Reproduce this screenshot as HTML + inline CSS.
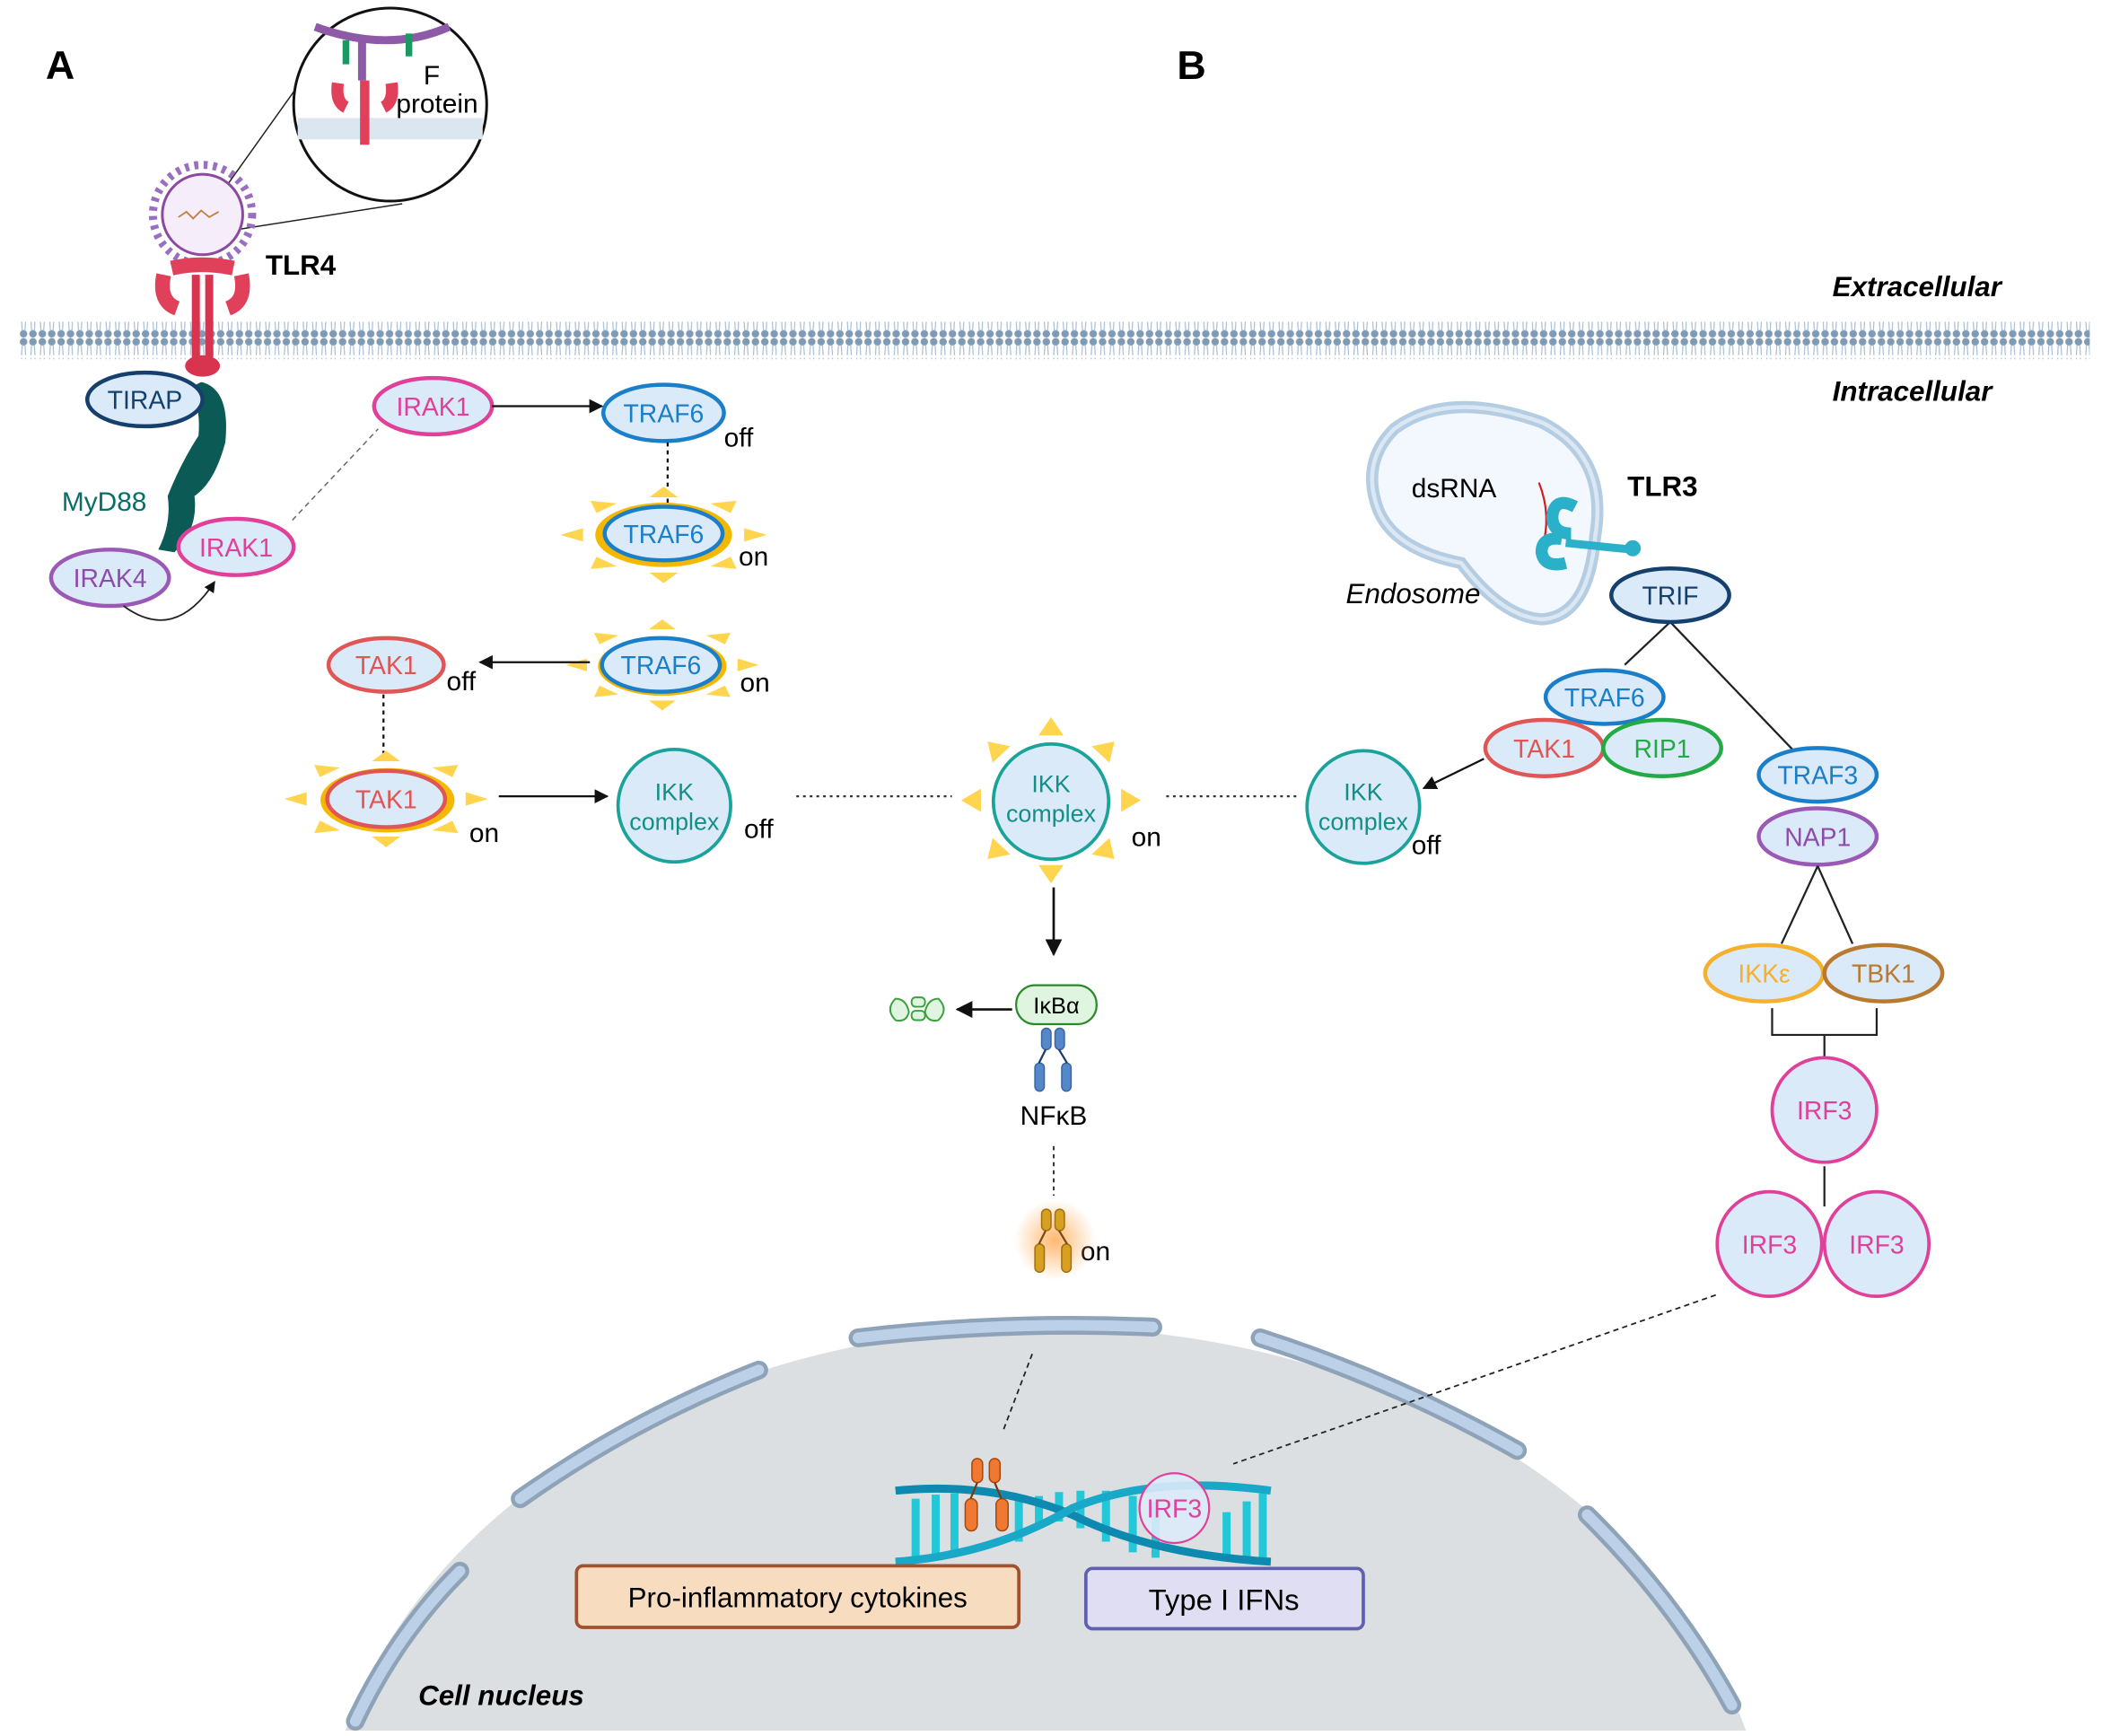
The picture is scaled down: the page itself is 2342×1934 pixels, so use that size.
<!DOCTYPE html>
<html><head><meta charset="utf-8"><style>
html,body{margin:0;padding:0;background:#fff;width:2342px;height:1934px;overflow:hidden}
svg{display:block}
text{font-family:"Liberation Sans",sans-serif}
</style></head><body>
<svg width="2342" height="1934" viewBox="0 0 1568 1295" xmlns="http://www.w3.org/2000/svg">
<defs>
<g id="sun">
<polygon points="78,-14 78,14 100,0" fill="#ffd54f"/>
<polygon points="78,-14 78,14 100,0" fill="#ffd54f" transform="rotate(45)"/>
<polygon points="78,-14 78,14 100,0" fill="#ffd54f" transform="rotate(90)"/>
<polygon points="78,-14 78,14 100,0" fill="#ffd54f" transform="rotate(135)"/>
<polygon points="78,-14 78,14 100,0" fill="#ffd54f" transform="rotate(180)"/>
<polygon points="78,-14 78,14 100,0" fill="#ffd54f" transform="rotate(225)"/>
<polygon points="78,-14 78,14 100,0" fill="#ffd54f" transform="rotate(270)"/>
<polygon points="78,-14 78,14 100,0" fill="#ffd54f" transform="rotate(315)"/>
</g>
<marker id="ah" viewBox="0 0 10 10" refX="9" refY="5" markerWidth="7" markerHeight="7" orient="auto"><path d="M0,0L10,5L0,10z" fill="#111"/></marker>
<radialGradient id="glow"><stop offset="0" stop-color="#ffb060" stop-opacity="0.9"/><stop offset="1" stop-color="#ffb060" stop-opacity="0"/></radialGradient>
<pattern id="lip" width="7" height="28" patternUnits="userSpaceOnUse"><circle cx="3.5" cy="3" r="2.8" fill="#7f9ab5"/><circle cx="3.5" cy="25" r="2.8" fill="#7f9ab5"/><path d="M2.5,5L2,13M4.5,5L5,13M2.5,23L2,15M4.5,23L5,15" stroke="#a8bdd2" stroke-width="0.8"/></pattern>
</defs>

<text x="34" y="59" font-size="30" font-weight="bold">A</text>
<text x="878" y="59" font-size="30" font-weight="bold">B</text>
<text x="1367" y="221" font-size="21" font-weight="bold" font-style="italic">Extracellular</text>
<text x="1367" y="299" font-size="21" font-weight="bold" font-style="italic">Intracellular</text>

<rect x="14" y="240" width="1545" height="28" fill="url(#lip)"/>

<line x1="168" y1="140" x2="250" y2="25" stroke="#222" stroke-width="1"/>
<line x1="172" y1="172" x2="300" y2="152" stroke="#222" stroke-width="1"/>
<circle cx="291" cy="78" r="72" fill="#fff" stroke="#111" stroke-width="2"/>
<rect x="222" y="88" width="138" height="16" fill="#dce6f0"/>
<path d="M235,20 Q290,40 335,20" stroke="#8e5aa8" stroke-width="6" fill="none"/>
<path d="M270,30V60" stroke="#8e5aa8" stroke-width="6"/>
<path d="M258,30V48M305,25V42" stroke="#1a9a60" stroke-width="5"/>
<path d="M252,62 Q250,76 258,80 M292,62 Q294,76 286,80" stroke="#e0405a" stroke-width="9" fill="none"/>
<path d="M272,60V108" stroke="#e0405a" stroke-width="7"/>
<text x="322" y="63" font-size="20" text-anchor="middle">F</text>
<text x="326" y="84" font-size="20" text-anchor="middle">protein</text>

<circle cx="151" cy="160" r="37" fill="none" stroke="#9b6fc0" stroke-width="6" stroke-dasharray="3 4"/>
<circle cx="151" cy="160" r="30" fill="#f5edfa" stroke="#8a4aa0" stroke-width="2"/>
<path d="M133,162 l6,-4 l5,5 l6,-6 l6,5 l7,-4" stroke="#c08040" fill="none" stroke-width="1.2"/>

<text x="198" y="205" font-size="21" font-weight="bold">TLR4</text>
<path d="M122,205 Q118,225 132,230 M180,205 Q184,225 170,230" stroke="#e0405a" stroke-width="11" fill="none"/>
<path d="M128,200 Q150,195 174,200" stroke="#e0405a" stroke-width="11" fill="none"/>
<path d="M146,205V272M156,205V272" stroke="#d8344f" stroke-width="6"/>
<ellipse cx="151" cy="273" rx="13" ry="8" fill="#d8344f"/>

<path d="M150,285 Q172,290 168,330 Q160,360 145,370 Q148,395 130,412 L118,410 Q128,390 125,370 Q135,345 148,325 Q150,300 140,290z" fill="#0b5a55"/>
<text x="46" y="381" font-size="20" fill="#0b6e66">MyD88</text>

<g font-size="19" text-anchor="middle">
<ellipse cx="108" cy="298" rx="43" ry="20" fill="#dbeaf8" stroke="#15406e" stroke-width="3"/>
<text x="108" y="305" fill="#15406e">TIRAP</text>
<ellipse cx="82" cy="431" rx="44" ry="21" fill="#dbeaf8" stroke="#9b59b6" stroke-width="3"/>
<text x="82" y="438" fill="#8e4caa">IRAK4</text>
<ellipse cx="176" cy="408" rx="43" ry="21" fill="#dbeaf8" stroke="#e0409a" stroke-width="3"/>
<text x="176" y="415" fill="#e0409a">IRAK1</text>
</g>
<path d="M92,452 Q130,480 160,434" stroke="#222" stroke-width="1.2" fill="none" marker-end="url(#ah)"/>
<line x1="218" y1="388" x2="282" y2="320" stroke="#666" stroke-width="1" stroke-dasharray="4 3"/>

<g font-size="19" text-anchor="middle">
<ellipse cx="323" cy="303" rx="44" ry="21" fill="#dbeaf8" stroke="#e0409a" stroke-width="3"/>
<text x="323" y="310" fill="#e0409a">IRAK1</text>
<line x1="367" y1="303" x2="449" y2="303" stroke="#111" stroke-width="1.5" marker-end="url(#ah)"/>
<ellipse cx="495" cy="308" rx="45" ry="21" fill="#dbeaf8" stroke="#1a7fc8" stroke-width="3"/>
<text x="495" y="315" fill="#1a7fc8">TRAF6</text>
<line x1="498" y1="330" x2="498" y2="380" stroke="#111" stroke-width="1.5" stroke-dasharray="3 3"/>

<use href="#sun" transform="translate(495,399) scale(0.77,0.36)"/>
<ellipse cx="495" cy="399" rx="51" ry="24" fill="#f5b800"/>
<ellipse cx="495" cy="398" rx="44" ry="20" fill="#dbeaf8" stroke="#1a7fc8" stroke-width="3"/>
<text x="495" y="405" fill="#1a7fc8">TRAF6</text>

<use href="#sun" transform="translate(494,496) scale(0.72,0.34)"/>
<ellipse cx="494" cy="497" rx="48" ry="22" fill="#f5b800"/>
<ellipse cx="493" cy="496" rx="44" ry="20" fill="#dbeaf8" stroke="#1a7fc8" stroke-width="3"/>
<text x="493" y="503" fill="#1a7fc8">TRAF6</text>
<line x1="440" y1="494" x2="358" y2="494" stroke="#111" stroke-width="1.5" marker-end="url(#ah)"/>

<ellipse cx="288" cy="496" rx="43" ry="20" fill="#dbeaf8" stroke="#e05555" stroke-width="3"/>
<text x="288" y="503" fill="#e05555">TAK1</text>
<line x1="286" y1="518" x2="286" y2="566" stroke="#111" stroke-width="1.5" stroke-dasharray="3 3"/>

<use href="#sun" transform="translate(288,596) scale(0.76,0.36)"/>
<ellipse cx="289" cy="597" rx="50" ry="24" fill="#f5b800"/>
<ellipse cx="288" cy="596" rx="44" ry="21" fill="#dbeaf8" stroke="#e05555" stroke-width="3"/>
<text x="288" y="603" fill="#e05555">TAK1</text>
<line x1="372" y1="594" x2="453" y2="594" stroke="#111" stroke-width="1.5" marker-end="url(#ah)"/>

<circle cx="503" cy="601" r="42" fill="#dbeaf8" stroke="#1aa39a" stroke-width="2.5"/>
<text x="503" y="597" fill="#129088" font-size="18">IKK</text>
<text x="503" y="619" fill="#129088" font-size="18">complex</text>
<line x1="594" y1="594" x2="710" y2="594" stroke="#333" stroke-width="1.5" stroke-dasharray="2 3"/>

<use href="#sun" transform="translate(784,597) scale(0.67,0.62)"/>
<circle cx="784" cy="598" r="43" fill="#dbeaf8" stroke="#1aa39a" stroke-width="2.5"/>
<text x="784" y="591" fill="#129088" font-size="18">IKK</text>
<text x="784" y="613" fill="#129088" font-size="18">complex</text>
<line x1="870" y1="594" x2="970" y2="594" stroke="#333" stroke-width="1.5" stroke-dasharray="2 3"/>

<circle cx="1017" cy="602" r="42" fill="#dbeaf8" stroke="#1aa39a" stroke-width="2.5"/>
<text x="1017" y="597" fill="#129088" font-size="18">IKK</text>
<text x="1017" y="619" fill="#129088" font-size="18">complex</text>
<line x1="1107" y1="566" x2="1062" y2="588" stroke="#111" stroke-width="1.5" marker-end="url(#ah)"/>
</g>
<g font-size="20">
<text x="540" y="333">off</text>
<text x="551" y="422">on</text>
<text x="552" y="516">on</text>
<text x="333" y="515">off</text>
<text x="350" y="628">on</text>
<text x="555" y="625">off</text>
<text x="844" y="631">on</text>
<text x="1053" y="637">off</text>
<text x="806" y="940">on</text>
</g>

<path d="M1040,320 Q1080,290 1150,315 Q1200,340 1190,400 Q1185,460 1150,462 Q1120,460 1090,420 Q1040,410 1028,380 Q1015,345 1040,320z" fill="#f2f8fd" stroke="#b5cde2" stroke-width="9"/>
<path d="M1040,320 Q1080,290 1150,315 Q1200,340 1190,400 Q1185,460 1150,462 Q1120,460 1090,420 Q1040,410 1028,380 Q1015,345 1040,320z" fill="none" stroke="#dbe8f4" stroke-width="3"/>
<text x="1053" y="371" font-size="20">dsRNA</text>
<text x="1004" y="450" font-size="21" font-style="italic">Endosome</text>
<text x="1214" y="370" font-size="21" font-weight="bold">TLR3</text>
<path d="M1148,360 Q1158,385 1150,410" stroke="#d02020" stroke-width="1.5" fill="none"/>
<path d="M1175,378 Q1160,370 1158,385 Q1158,398 1172,398 M1165,402 Q1150,400 1150,412 Q1152,424 1168,420" stroke="#2ab0c8" stroke-width="9" fill="none"/>
<path d="M1168,405 L1218,410" stroke="#2ab0c8" stroke-width="6"/>
<circle cx="1218" cy="409" r="6" fill="#2ab0c8"/>

<g font-size="19" text-anchor="middle">
<line x1="1246" y1="464" x2="1212" y2="496" stroke="#222" stroke-width="1.5"/>
<line x1="1246" y1="464" x2="1340" y2="562" stroke="#222" stroke-width="1.5"/>
<ellipse cx="1246" cy="444" rx="44" ry="20" fill="#dbeaf8" stroke="#15406e" stroke-width="3"/>
<text x="1246" y="451" fill="#15406e">TRIF</text>
<ellipse cx="1197" cy="520" rx="44" ry="20" fill="#dbeaf8" stroke="#1a7fc8" stroke-width="3"/>
<text x="1197" y="527" fill="#1a7fc8">TRAF6</text>
<ellipse cx="1152" cy="558" rx="44" ry="21" fill="#dbeaf8" stroke="#e05555" stroke-width="3"/>
<text x="1152" y="565" fill="#e05555">TAK1</text>
<ellipse cx="1240" cy="558" rx="44" ry="21" fill="#dbeaf8" stroke="#22aa44" stroke-width="3"/>
<text x="1240" y="565" fill="#22aa44">RIP1</text>
<ellipse cx="1356" cy="578" rx="44" ry="20" fill="#dbeaf8" stroke="#1a7fc8" stroke-width="3"/>
<text x="1356" y="585" fill="#1a7fc8">TRAF3</text>
<ellipse cx="1356" cy="624" rx="44" ry="21" fill="#dbeaf8" stroke="#9b59b6" stroke-width="3"/>
<text x="1356" y="631" fill="#8e4caa">NAP1</text>
<line x1="1356" y1="646" x2="1329" y2="704" stroke="#222" stroke-width="1.5"/>
<line x1="1356" y1="646" x2="1382" y2="704" stroke="#222" stroke-width="1.5"/>
<ellipse cx="1316" cy="726" rx="44" ry="21" fill="#dbeaf8" stroke="#f5b030" stroke-width="3"/>
<text x="1316" y="733" fill="#f5b030">IKKε</text>
<ellipse cx="1405" cy="726" rx="44" ry="21" fill="#dbeaf8" stroke="#b87a30" stroke-width="3"/>
<text x="1405" y="733" fill="#b87a30">TBK1</text>
<path d="M1322,752V772H1400V752M1361,772V790" stroke="#222" stroke-width="1.5" fill="none"/>
<circle cx="1361" cy="828" r="39" fill="#dbeaf8" stroke="#e0409a" stroke-width="2.5"/>
<text x="1361" y="835" fill="#e0409a">IRF3</text>
<line x1="1361" y1="870" x2="1361" y2="900" stroke="#222" stroke-width="1.5"/>
<circle cx="1320" cy="928" r="39" fill="#dbeaf8" stroke="#e0409a" stroke-width="2.5"/>
<text x="1320" y="935" fill="#e0409a">IRF3</text>
<circle cx="1400" cy="928" r="39" fill="#dbeaf8" stroke="#e0409a" stroke-width="2.5"/>
<text x="1400" y="935" fill="#e0409a">IRF3</text>
</g>

<line x1="786" y1="662" x2="786" y2="712" stroke="#111" stroke-width="1.8" marker-end="url(#ah)"/>
<line x1="755" y1="753" x2="714" y2="753" stroke="#111" stroke-width="1.8" marker-end="url(#ah)"/>
<g fill="#dff5df" stroke="#3aa040" stroke-width="1.3">
<path d="M668,745 q-8,8 0,16 q8,2 10,-6 q-2,-10 -10,-10z"/>
<rect x="680" y="744" width="10" height="7" rx="3"/><rect x="680" y="754" width="10" height="7" rx="3"/>
<path d="M700,745 q8,8 0,16 q-8,2 -10,-6 q2,-10 10,-10z"/>
</g>
<rect x="758" y="735" width="60" height="29" rx="14" fill="#dff5df" stroke="#2a8a2a" stroke-width="1.5"/>
<text x="788" y="756" font-size="17" text-anchor="middle">IκBα</text>
<g fill="#5588c8" stroke="#3a66a0" stroke-width="1">
<rect x="777" y="767" width="7" height="16" rx="3.5"/><rect x="787" y="767" width="7" height="16" rx="3.5"/>
<rect x="772" y="793" width="7" height="21" rx="3.5"/><rect x="792" y="793" width="7" height="21" rx="3.5"/>
</g>
<path d="M780,783L775,793M790,783L796,793" stroke="#1a3a70" stroke-width="1.5"/>
<text x="786" y="839" font-size="20" text-anchor="middle">NFκB</text>
<line x1="786" y1="855" x2="786" y2="892" stroke="#222" stroke-width="1.2" stroke-dasharray="3 3"/>
<circle cx="787" cy="925" r="30" fill="url(#glow)"/>
<g fill="#d8a020" stroke="#a07010" stroke-width="1">
<rect x="777" y="902" width="7" height="16" rx="3.5"/><rect x="787" y="902" width="7" height="16" rx="3.5"/>
<rect x="772" y="928" width="7" height="21" rx="3.5"/><rect x="792" y="928" width="7" height="21" rx="3.5"/>
</g>
<path d="M780,918L775,928M790,918L796,928" stroke="#7a4a10" stroke-width="1.5"/>

<path d="M257.5,1291 A542,410 0 0 1 1302.5,1291 Z" fill="#dcdfe2"/>
<g fill="none" stroke-linecap="round">
<g stroke="#8ea2b8" stroke-width="14">
<path d="M640,998 Q750,985 860,990"/>
<path d="M388,1118 Q470,1060 566,1022"/>
<path d="M940,998 Q1040,1030 1132,1082"/>
<path d="M1184,1130 Q1250,1195 1292,1272"/>
<path d="M265,1284 Q295,1220 343,1172"/>
</g>
<g stroke="#bcd0e8" stroke-width="8">
<path d="M640,998 Q750,985 860,990"/>
<path d="M388,1118 Q470,1060 566,1022"/>
<path d="M940,998 Q1040,1030 1132,1082"/>
<path d="M1184,1130 Q1250,1195 1292,1272"/>
<path d="M265,1284 Q295,1220 343,1172"/>
</g>
</g>
<line x1="770" y1="1010" x2="748" y2="1068" stroke="#222" stroke-width="1.2" stroke-dasharray="4 3"/>
<line x1="1280" y1="966" x2="920" y2="1092" stroke="#222" stroke-width="1.2" stroke-dasharray="4 3"/>

<g stroke-width="6">
<path d="M683,1118V1162M698,1115V1162M712,1114V1160M760,1118V1150M775,1116V1140M790,1113V1135M806,1112V1140M825,1112V1150M845,1116V1158M862,1120V1162M915,1128V1162M930,1120V1164M942,1114V1164" stroke="#22c8d8"/>
</g>
<path d="M668,1112 Q740,1105 800,1130 Q860,1160 948,1165" stroke="#0e8ab0" stroke-width="6" fill="none"/>
<path d="M668,1165 Q740,1160 800,1125 Q860,1100 948,1112" stroke="#1aa8c8" stroke-width="6" fill="none"/>
<g fill="#f07830" stroke="#a04a10" stroke-width="1">
<rect x="725" y="1088" width="8" height="18" rx="4"/><rect x="738" y="1088" width="8" height="18" rx="4"/>
<rect x="720" y="1118" width="9" height="24" rx="4.5"/><rect x="743" y="1118" width="9" height="24" rx="4.5"/>
</g>
<path d="M729,1106L724,1118M742,1106L747,1118" stroke="#7a3a10" stroke-width="1.5"/>
<circle cx="876" cy="1125" r="26" fill="#dbeaf8" fill-opacity="0.9" stroke="#e0409a" stroke-width="1.5"/>
<text x="876" y="1132" font-size="19" fill="#e0409a" text-anchor="middle">IRF3</text>

<rect x="430" y="1168" width="330" height="46" rx="5" fill="#f8dcc0" stroke="#a0522d" stroke-width="2.5"/>
<text x="595" y="1199" font-size="21" text-anchor="middle">Pro-inflammatory cytokines</text>
<rect x="810" y="1170" width="207" height="45" rx="5" fill="#e0def2" stroke="#6060b0" stroke-width="2.5"/>
<text x="913" y="1201" font-size="22" text-anchor="middle">Type I IFNs</text>
<text x="312" y="1272" font-size="21" font-weight="bold" font-style="italic">Cell nucleus</text>
</svg>
</body></html>
